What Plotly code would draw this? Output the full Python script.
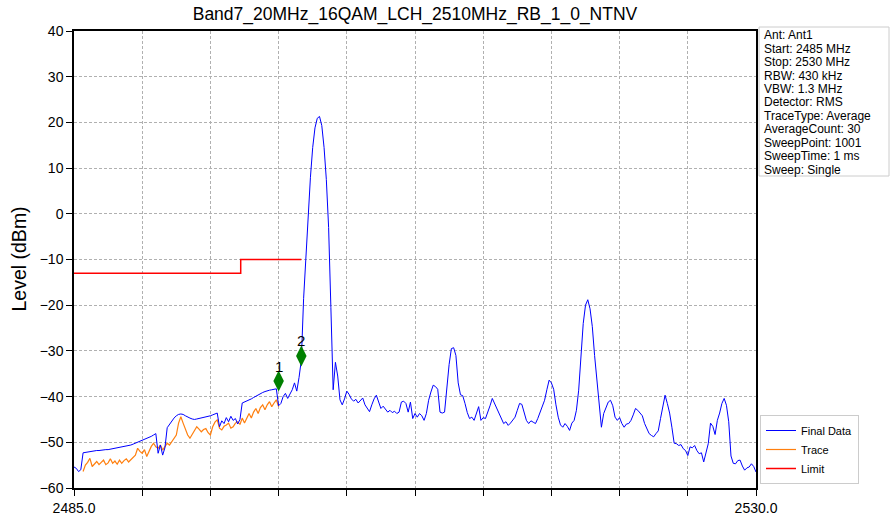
import numpy as np
import plotly.graph_objs as go

# sweep settings
start_mhz = 2485.0
stop_mhz = 2530.0
step_mhz = 0.15

# final data (dBm), one value per sweep step
final_data = [
    -55.4, -55.7, -56.4, -56.0, -52.3, -52.2, -52.1, -52.1, -52.0, -51.9,
    -51.8, -51.8, -51.7, -51.7, -51.6, -51.6, -51.5, -51.4, -51.3, -51.3,
    -51.2, -51.1, -51.0, -50.9, -50.8, -50.6, -50.4, -50.2, -50.0, -49.7,
    -49.5, -49.3, -49.1, -48.9, -48.7, -48.4, -48.1, -52.4, -50.6, -52.8,
    -51.2, -46.8, -46.0, -45.3, -44.7, -44.2, -43.9, -43.8, -43.9, -44.2,
    -44.5, -44.7, -44.9, -45.0, -44.9, -44.8, -44.6, -44.5, -44.4, -44.3,
    -44.2, -44.0, -43.8, -43.6, -46.6, -45.3, -45.9, -44.6, -45.5, -44.3,
    -45.2, -44.8, -46.0, -45.0, -41.4, -41.2, -41.0, -40.8, -40.5, -40.2,
    -39.9, -39.6, -39.3, -39.1, -38.9, -38.7, -38.6, -38.5, -38.4, -38.3,
    -42.0, -41.5, -40.0, -39.3, -40.4, -39.6, -38.5, -37.0, -38.8, -35.8,
    -32.0, -18.5, -9.5, -0.6, 8.0, 14.5, 18.8, 20.9, 21.3, 19.3,
    14.5, 7.5, -3.0, -20.5, -38.5, -32.5, -35.5, -40.7, -41.8, -40.5,
    -38.8, -39.5, -40.5, -41.0, -40.6, -41.4, -40.8, -40.3, -41.8, -42.5,
    -43.3, -41.8, -40.5, -39.7, -41.2, -42.6, -42.1, -42.8, -43.4, -43.0,
    -43.5, -43.2, -43.7, -43.4, -41.2, -41.0, -41.5, -43.4, -41.2, -44.8,
    -43.7, -44.5, -43.7, -44.2, -45.2, -43.7, -40.8, -39.0, -37.5, -37.8,
    -38.4, -43.4, -43.6, -43.4, -38.0, -33.0, -29.5, -29.3, -31.0, -37.0,
    -39.6, -39.8, -41.5, -43.5, -44.8, -44.5, -45.2, -43.5, -42.2, -45.2,
    -44.6, -44.8, -43.5, -42.0, -40.4, -41.5, -42.6, -43.7, -44.8, -45.9,
    -45.5, -46.3, -45.8, -45.0, -44.5, -43.0, -41.5, -41.7, -43.5, -45.2,
    -45.9, -45.3, -45.6, -45.9, -44.8, -43.4, -42.0, -40.8, -38.5, -36.4,
    -37.0, -38.4, -41.8, -44.5, -46.2, -46.7, -45.9, -46.5, -47.4, -45.8,
    -45.2, -43.0, -38.6, -31.0, -24.0, -20.0, -18.8, -20.8, -24.7, -31.0,
    -36.4, -42.0, -46.7, -43.7, -42.4, -41.2, -40.8, -42.0, -44.5, -45.2,
    -44.6, -45.9, -46.7, -46.0, -45.9, -45.2, -44.0, -42.6, -43.0, -43.5,
    -44.2, -45.9, -47.0, -48.1, -48.5, -48.8, -48.1, -47.5, -44.8, -42.0,
    -39.7, -41.5, -43.6, -46.7, -50.2, -50.3, -50.7, -50.5, -51.4, -51.8,
    -52.9, -51.0, -51.2, -50.7, -51.8, -52.5, -52.3, -54.3, -52.0, -50.3,
    -45.8, -46.5, -48.3, -45.2, -43.6, -41.5, -40.4, -41.9, -45.5, -53.0,
    -54.6, -54.7, -54.0, -53.9, -55.2, -56.1, -55.6, -55.4, -54.7, -55.3,
    -56.5,
]

# trace (dBm), starts at sweep step 4
trace_start = 4
trace_data = [
    -56.4, -55.0, -54.4, -53.5, -55.3, -54.8, -54.2, -54.9, -54.3, -53.9,
    -54.9, -54.5, -53.6, -54.6, -54.1, -54.8, -53.9, -54.6, -54.0, -53.6,
    -54.3, -53.8, -53.2, -52.8, -51.3, -52.0, -52.4, -51.6, -53.1, -52.0,
    -50.9, -50.2, -51.0, -51.3, -50.6, -51.7, -50.9, -50.2, -50.6, -49.9,
    -49.2, -48.4, -45.8, -44.4, -45.8, -47.3, -48.4, -49.1, -48.2, -47.3,
    -46.6, -47.1, -47.7, -47.2, -47.0, -47.9, -48.4, -46.6, -45.6, -45.1,
    -46.9, -47.3, -46.5, -46.2, -45.8, -46.9, -46.6, -45.8, -45.5, -46.1,
    -44.7, -45.8, -44.9, -43.7, -44.7, -43.4, -42.6, -43.7, -42.4, -41.8,
    -42.9, -41.8, -41.1, -42.2, -41.4, -40.7, -42.2,
]

limit_freqs = [2485.0, 2496.0, 2496.0, 2500.0]
limit_levels = [-13, -13, -10, -10]

marker_freqs = [2498.5, 2500.0]
marker_levels = [-36.6, -31.1]
marker_names = ['1', '2']

info_lines = [
    'Ant: Ant1',
    'Start: 2485 MHz',
    'Stop: 2530 MHz',
    'RBW: 430 kHz',
    'VBW: 1.3 MHz',
    'Detector: RMS',
    'TraceType: Average',
    'AverageCount: 30',
    'SweepPoint: 1001',
    'SweepTime: 1 ms',
    'Sweep: Single',
]

freq = np.round(start_mhz + step_mhz * np.arange(len(final_data)), 3)
trace_freq = freq[trace_start:trace_start + len(trace_data)]

FONT = 'Liberation Sans, Arial, sans-serif'

W, H = 891, 518
# plot area in pixels
PL, PR, PT, PB = 74, 756, 31, 488
plot_w = PR - PL
plot_h = PB - PT

def px_x(x):
    return (x - PL) / plot_w

def px_y(y):
    return 1 - (y - PT) / plot_h

fig = go.Figure()
fig.add_trace(go.Scatter(x=trace_freq, y=trace_data, mode='lines', name='Trace',
                         line=dict(color='#ff7f0e', width=1.2), legendrank=2))
fig.add_trace(go.Scatter(x=freq, y=final_data, mode='lines', name='Final Data',
                         line=dict(color='#0000ff', width=1), legendrank=1))
fig.add_trace(go.Scatter(x=limit_freqs, y=limit_levels, mode='lines', name='Limit',
                         line=dict(color='#ff0000', width=1.5), legendrank=3))
fig.add_trace(go.Scatter(x=marker_freqs, y=marker_levels, mode='markers',
                         marker=dict(symbol='diamond-tall', size=15, color='#008000'),
                         showlegend=False))
# marker numbers just above the diamonds
for f, lv, name in zip(marker_freqs, marker_levels, marker_names):
    fig.add_annotation(x=f, y=lv, text=name, showarrow=False, yshift=15,
                       xanchor='center', yanchor='middle',
                       font=dict(size=15, color='black', family=FONT))

# info box, one annotation per line to keep the tight line spacing
line_gap = 13.4
for k, line in enumerate(info_lines):
    fig.add_annotation(xref='paper', yref='paper', x=px_x(763), y=px_y(35.5 + line_gap * k),
                       xanchor='left', yanchor='middle', text=line, showarrow=False,
                       borderpad=0, font=dict(size=12, color='black', family=FONT))
fig.add_shape(type='rect', xref='paper', yref='paper',
              x0=px_x(759), x1=px_x(889), y0=px_y(176), y1=px_y(27),
              line=dict(color='#cccccc', width=1), fillcolor='rgba(0,0,0,0)')

# y axis title
fig.add_annotation(xref='paper', yref='paper', x=px_x(18), y=0.5, text='Level (dBm)',
                   textangle=-90, showarrow=False, xanchor='center', yanchor='middle',
                   font=dict(size=19.5, family=FONT, color='black'))

xticks = [start_mhz + 4.5 * k for k in range(11)]
xtext = ['2485.0'] + [''] * 9 + ['2530.0']

fig.update_layout(
    width=W, height=H,
    margin=dict(l=PL, r=W - PR, t=PT, b=H - PB),
    paper_bgcolor='white', plot_bgcolor='white',
    font=dict(family=FONT, size=14, color='black'),
    title=dict(text='Band7_20MHz_16QAM_LCH_2510MHz_RB_1_0_NTNV', x=415 / W, xanchor='center',
               y=1 - 13.5 / H, yanchor='middle', font=dict(size=17.5, family=FONT)),
    xaxis=dict(range=[start_mhz, stop_mhz], tickvals=xticks, ticktext=xtext,
               showgrid=True, gridcolor='#b0b0b0', griddash='3px,2px', gridwidth=1,
               showline=True, linecolor='black', linewidth=1.5, mirror=True,
               ticks='outside', ticklen=6, tickcolor='black', zeroline=False,
               tickfont=dict(size=14), automargin=False),
    yaxis=dict(range=[-60, 40], dtick=10, tick0=-60,
               showgrid=True, gridcolor='#b0b0b0', griddash='3px,2px', gridwidth=1,
               showline=True, linecolor='black', linewidth=1.5, mirror=True,
               ticks='outside', ticklen=6, tickcolor='black', zeroline=False,
               tickfont=dict(size=14), automargin=False),
    legend=dict(x=px_x(760), y=px_y(484), xanchor='left', yanchor='bottom',
                bordercolor='#cccccc', borderwidth=1, bgcolor='white',
                itemwidth=30, font=dict(size=11, family=FONT), tracegroupgap=0),
    showlegend=True,
)

# drop the default page margin so the figure sits at the window corner
fig.write_html("out.html", config={'displayModeBar': False},
               post_script="document.body.style.margin='0';")
